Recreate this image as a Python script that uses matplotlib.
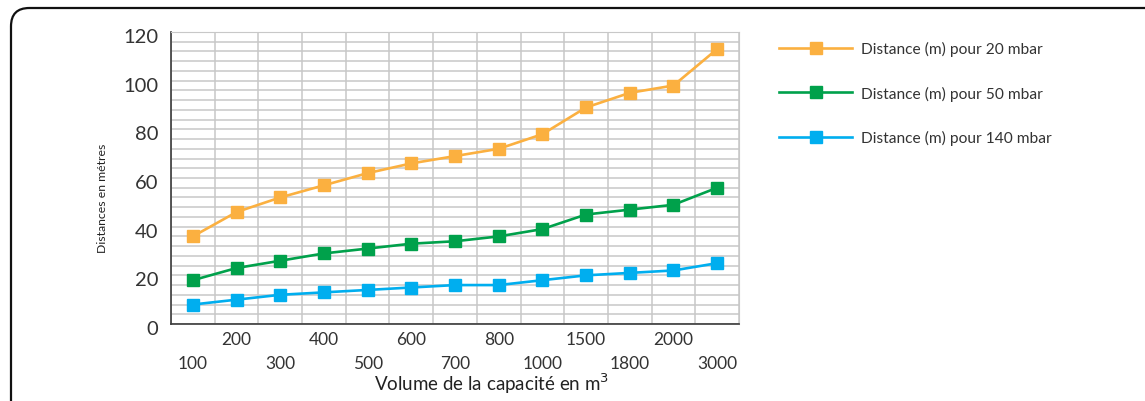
import numpy as np
import matplotlib
matplotlib.use("Agg")
import matplotlib.pyplot as plt
from matplotlib.ticker import MultipleLocator, FixedLocator
from matplotlib.patches import FancyBboxPatch
import matplotlib.transforms as mtransforms

plt.rcParams['font.family'] = ['Lato', 'DejaVu Sans']

# volumes (m3) and distances (m) for each pressure
volumes = ['100', '200', '300', '400', '500', '600', '700', '800',
           '1000', '1500', '1800', '2000', '3000']
dist_20 = [36, 46, 52, 57, 62, 66, 69, 72, 78, 89, 95, 98, 113]
dist_50 = [18, 23, 26, 29, 31, 33, 34, 36, 39, 45, 47, 49, 56]
dist_140 = [8, 10, 12, 13, 14, 15, 16, 16, 18, 20, 21, 22, 25]

series = [
    (dist_20, '#FBB040', 'Distance (m) pour 20 mbar'),
    (dist_50, '#00A14B', 'Distance (m) pour 50 mbar'),
    (dist_140, '#00AEEF', 'Distance (m) pour 140 mbar'),
]

fig = plt.figure(figsize=(11.45, 4.02), dpi=100)
ax = fig.add_axes([171 / 1145, 1 - 325 / 402, 568 / 1145, 292 / 402])

x = np.arange(len(volumes))
handles = []
for vals, col, lab in series:
    h, = ax.plot(x, vals, color=col, lw=1.9, marker='s', ms=8.5,
                 mec=col, mfc=col, label=lab, zorder=3)
    handles.append(h)

ax.set_xlim(-0.5, len(volumes) - 0.5)
ax.set_ylim(0, 120)

# grid: thin horizontal lines every 4 m, vertical lines between categories
ax.yaxis.set_major_locator(MultipleLocator(20))
ax.yaxis.set_minor_locator(MultipleLocator(4))
ax.grid(which='both', axis='y', color='#c8c8c8', lw=1.1)
for b in np.arange(len(volumes) + 1) - 0.5:
    ax.axvline(b, color='#c8c8c8', lw=1.1, zorder=1)
ax.set_axisbelow(True)

for s in ['top', 'right']:
    ax.spines[s].set_color('#c8c8c8')
for s in ['left', 'bottom']:
    ax.spines[s].set_color('#3a3a3a')
    ax.spines[s].set_linewidth(1.2)

ax.tick_params(axis='y', which='both', length=0, pad=9, labelsize=14.5,
               labelcolor='#333333')
offset = mtransforms.ScaledTranslation(0, -3 / 100, fig.dpi_scale_trans)
for lbl in ax.get_yticklabels():
    lbl.set_transform(lbl.get_transform() + offset)

# staggered category labels: even ones low, odd ones high
ax.xaxis.set_major_locator(FixedLocator(x[::2]))
ax.xaxis.set_minor_locator(FixedLocator(x[1::2]))
ax.set_xticklabels(volumes[::2])
ax.set_xticklabels(volumes[1::2], minor=True)
ax.tick_params(axis='x', which='major', length=0, pad=22, labelsize=12.5,
               labelcolor='#333333')
ax.tick_params(axis='x', which='minor', length=0, pad=5, labelsize=12.5,
               labelcolor='#333333')

fig.text(492 / 1145, 1 - 384 / 402, 'Volume de la capacité en m$^3$',
         ha='center', va='center', fontsize=13.5, color='#222222')
fig.text(103 / 1145, 1 - 198 / 402, 'Distances en métres', rotation=90,
         ha='center', va='center', fontsize=8.8, color='#222222')

fig.legend(handles=handles, loc='upper left',
           bbox_to_anchor=(765 / 1145, 1 - 28 / 402), frameon=False,
           fontsize=11.2, handlelength=4.7, handletextpad=0.6,
           labelspacing=1.9, labelcolor='#333333')

# rounded frame around the whole chart
frame = FancyBboxPatch((11 / 1145, -0.1), 1.2, 1 - 9 / 402 + 0.1,
                       boxstyle='round,pad=0,rounding_size=0.016',
                       transform=fig.transFigure, fill=False,
                       ec='#111111', lw=1.6, mutation_aspect=1145 / 402)
fig.patches.append(frame)

fig.savefig('out.png', dpi=100)
